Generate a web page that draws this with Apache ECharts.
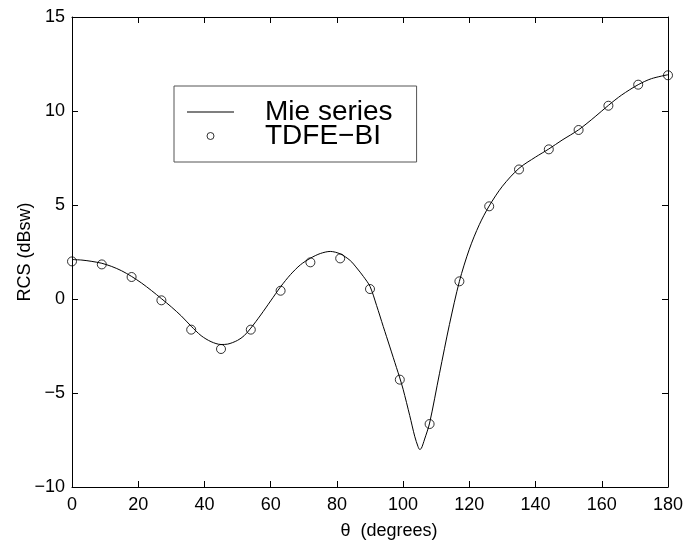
<!DOCTYPE html>
<html>
<head>
<meta charset="utf-8">
<script src="https://cdn.jsdelivr.net/npm/echarts@6/dist/echarts.min.js"></script>
<style>html,body{margin:0;padding:0;background:#fff}#c{width:695px;height:540px}</style>
</head>
<body>
<div id="c"></div>
<script>
// Mie series (solid curve): angle (deg), RCS (dBsw)
const mieAngles = [0,3,6,9,12,15,18,21,24,27,30,33,36,39,42,45,47,50,52,54,57,60,63,66,69,72,75,78,81,84,86,88,90,92,94,96,98,99,100,102,103.5,104.5,105,105.5,106.5,108,111,114,117,120,123,126,130,135,140,144,148,153,158,162,166,171,175,180];
const mieValues = [2.10,2.07,2.00,1.90,1.73,1.50,1.20,0.85,0.45,0.02,-0.42,-0.90,-1.45,-1.95,-2.27,-2.42,-2.40,-2.20,-1.95,-1.55,-0.85,-0.10,0.65,1.30,1.82,2.17,2.42,2.53,2.40,2.05,1.65,1.20,0.67,-0.35,-1.46,-2.55,-3.65,-4.20,-4.80,-6.20,-7.30,-7.85,-8.00,-7.95,-7.45,-6.60,-3.95,-1.35,0.94,2.65,3.95,4.95,6.00,6.95,7.55,7.98,8.45,9.00,9.70,10.30,10.85,11.40,11.72,11.93];
// TDFE-BI (circles)
const tdfeAngles = [0,9,18,27,36,45,54,63,72,81,90,99,108,117,126,135,144,153,162,171,180];
const tdfeValues = [2.00,1.84,1.17,-0.07,-1.63,-2.66,-1.63,0.44,1.95,2.16,0.53,-4.29,-6.65,0.94,4.93,6.89,7.96,8.99,10.28,11.40,11.90];
const xTicks = {min:0, max:180, step:20};
const yTicks = {min:-10, max:15, step:5};

const font = 'Liberation Sans, Arial, Helvetica, sans-serif';
const chart = echarts.init(document.getElementById('c'), null, {renderer:'canvas'});
const axisCommon = {
  axisLine:{show:true, onZero:false, lineStyle:{color:'#000', width:1}},
  axisTick:{show:true, inside:true, length:6, lineStyle:{color:'#000'}},
  splitLine:{show:false}
};
chart.setOption({
  backgroundColor:'#fff',
  animation:false,
  grid:{left:72, right:27, top:17, bottom:53, outerBoundsMode:'none', containLabel:false},
  legend:{
    left:174, top:86,
    orient:'vertical',
    padding:[12,24,12,13],
    borderColor:'#555', borderWidth:1,
    backgroundColor:'#fff',
    itemWidth:47, itemHeight:7, itemGap:-4,
    textStyle:{fontSize:28, fontFamily:font, color:'#000', lineHeight:25, padding:[0,0,0,26]},
    data:[
      {name:'Mie series', icon:'path://M0,0L47,0L47,1L0,1Z', itemStyle:{color:'#000', borderWidth:0}},
      {name:'TDFE\u2212BI', icon:'circle', itemStyle:{color:'#fff', borderColor:'#000', borderWidth:1}}
    ]
  },
  xAxis:[
    Object.assign({type:'value', min:xTicks.min, max:xTicks.max, interval:xTicks.step,
      name:'\u03b8  (degrees)', nameLocation:'middle', nameGap:35, nameMoveOverlap:false,
      nameTextStyle:{fontSize:18, fontFamily:font, color:'#000', padding:[0,0,0,38]},
      axisLabel:{fontSize:18, fontFamily:font, color:'#000', margin:9}}, axisCommon),
    Object.assign({type:'value', position:'top', min:xTicks.min, max:xTicks.max, interval:xTicks.step,
      axisLabel:{show:false}}, axisCommon)
  ],
  yAxis:[
    Object.assign({type:'value', min:yTicks.min, max:yTicks.max, interval:yTicks.step,
      name:'RCS (dBsw)', nameLocation:'middle', nameGap:38, nameMoveOverlap:false,
      nameTextStyle:{fontSize:18, fontFamily:font, color:'#000'},
      axisLabel:{fontSize:18, fontFamily:font, color:'#000', margin:7,
        formatter:v=>String(v).replace('-','\u2212')}}, axisCommon),
    Object.assign({type:'value', position:'right', min:yTicks.min, max:yTicks.max, interval:yTicks.step,
      axisLabel:{show:false}}, axisCommon)
  ],
  series:[
    {name:'Mie series', type:'line', smooth:0.3, symbol:'none',
      lineStyle:{color:'#000', width:1}, itemStyle:{color:'#000'},
      data:mieAngles.map((a,i)=>[a,mieValues[i]])},
    {name:'TDFE\u2212BI', type:'scatter', symbol:'circle', symbolSize:9,
      itemStyle:{color:'rgba(255,255,255,0)', borderColor:'#000', borderWidth:1},
      data:tdfeAngles.map((a,i)=>[a,tdfeValues[i]])}
  ]
});
</script>
</body>
</html>
